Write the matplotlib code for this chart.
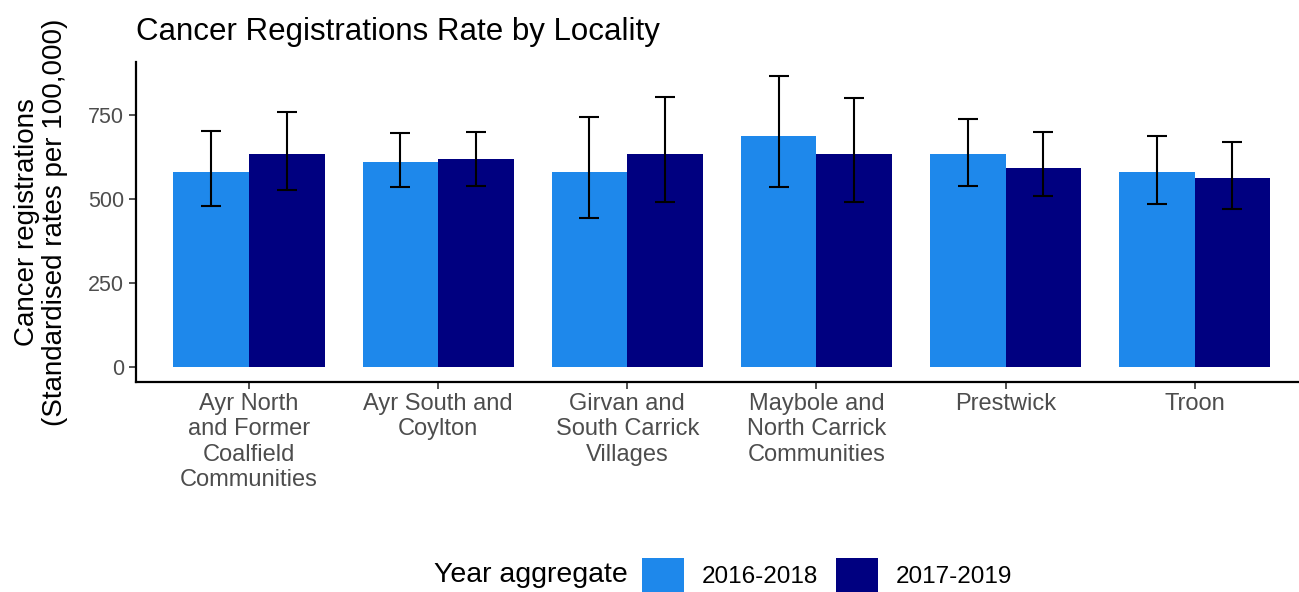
import numpy as np
import matplotlib
matplotlib.use("Agg")
import matplotlib.pyplot as plt
from matplotlib.patches import Patch

plt.rcParams['font.family'] = ['Liberation Sans', 'DejaVu Sans']

# data
localities = ["Ayr North\nand Former\nCoalfield\nCommunities", "Ayr South and\nCoylton",
              "Girvan and\nSouth Carrick\nVillages", "Maybole and\nNorth Carrick\nCommunities",
              "Prestwick", "Troon"]
years = ["2016-2018", "2017-2019"]
rate_1618 = [582, 612, 582, 688, 634, 582]
lower_1618 = [481, 536, 443, 537, 539, 485]
upper_1618 = [703, 696, 744, 865, 738, 688]
rate_1719 = [635, 618, 635, 635, 594, 564]
lower_1719 = [528, 540, 493, 492, 508, 472]
upper_1719 = [758, 700, 804, 802, 699, 670]

colours = ["#1E88EB", "#000080"]

fig = plt.figure(figsize=(12.99, 5.92), dpi=100)
ax = fig.add_axes([136/1299, 1 - 381.8/592, 1 - 136/1299, (381.8 - 62)/592])

x = np.arange(1, len(localities) + 1)
w = 0.4
series = [(rate_1618, lower_1618, upper_1618), (rate_1719, lower_1719, upper_1719)]
for i, (rate, lo, hi) in enumerate(series):
    rate = np.array(rate)
    xs = x - w/2 + i*w
    ax.bar(xs, rate, width=w, color=colours[i], edgecolor='none', zorder=2)
    yerr = [rate - np.array(lo), np.array(hi) - rate]
    ax.errorbar(xs, rate, yerr=yerr, fmt='none', ecolor='black', elinewidth=1.5,
                capsize=7, capthick=1.5, zorder=3)

ax.set_xlim(0.402, 6.552)
ax.set_ylim(-43.3, 908)
ax.set_yticks([0, 250, 500, 750])
ax.set_xticks(x)
ax.set_xticklabels(localities, fontsize=17, color='#4D4D4D', linespacing=1.2)
ax.tick_params(axis='y', labelsize=15.5, labelcolor='#4D4D4D', color='#333333', length=5, width=1.2)
ax.tick_params(axis='x', color='#333333', length=5, width=1.2, pad=3)
for side in ['top', 'right']:
    ax.spines[side].set_visible(False)
for side in ['left', 'bottom']:
    ax.spines[side].set_linewidth(1.6)
    ax.spines[side].set_color('black')

ax.set_ylabel("Cancer registrations\n(Standardised rates per 100,000)", fontsize=20, linespacing=1.1,
              va='center')
ax.yaxis.set_label_coords((41 - 136) / 1163, 0.5)
fig.text(136/1299, 1 - 40/592, "Cancer Registrations Rate by Locality", fontsize=22.5,
         ha='left', va='baseline')

handles = [Patch(facecolor=c, edgecolor='none') for c in colours]
fig.legend(handles, years, loc='center', bbox_to_anchor=(827/1299, 1 - 575/592), ncol=2, frameon=False,
           fontsize=17.5, handlelength=1.73, handleheight=1.73, columnspacing=0.74, handletextpad=0.74,
           borderpad=0, borderaxespad=0)
fig.text(628/1299, 1 - 575/592, "Year aggregate", fontsize=20.5, ha='right', va='center')

fig.savefig("out.png", dpi=100)
